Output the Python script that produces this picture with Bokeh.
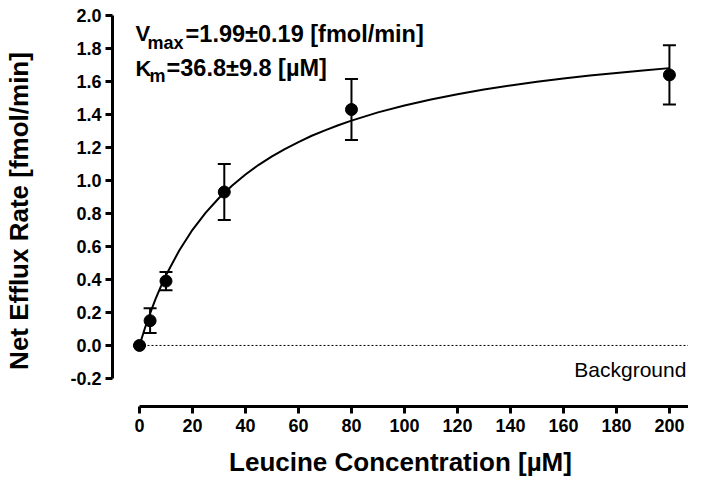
from bokeh.plotting import figure
from bokeh.models import (ColumnDataSource, Range1d, FixedTicker, PrintfTickFormatter,
                          Whisker, TeeHead, Label)
from bokeh.embed import file_html
from bokeh.resources import INLINE

# ---- data ----
conc = [0, 4, 10, 32, 80, 200]
rate = [0.00, 0.15, 0.39, 0.93, 1.43, 1.64]
rate_err = [0.00, 0.075, 0.055, 0.17, 0.185, 0.18]

fit_x = [0, 2, 4, 6, 8, 10, 15, 20, 25, 30, 35, 40, 45, 50, 55, 60, 65, 70, 75, 80, 90, 100,
         110, 120, 130, 140, 150, 160, 170, 180, 190, 200]
fit_y = [0.000, 0.103, 0.195, 0.279, 0.355, 0.425, 0.576, 0.701, 0.805, 0.894, 0.970, 1.036,
         1.095, 1.146, 1.192, 1.233, 1.271, 1.304, 1.335, 1.363, 1.413, 1.455, 1.491, 1.523,
         1.551, 1.576, 1.598, 1.618, 1.636, 1.652, 1.667, 1.681]

background_x = [0, 210]
background_y = [0, 0]

y_ticks = [-0.2, 0.0, 0.2, 0.4, 0.6, 0.8, 1.0, 1.2, 1.4, 1.6, 1.8, 2.0]
x_ticks = [0, 20, 40, 60, 80, 100, 120, 140, 160, 180, 200]

vmax_text = "=1.99\u00b10.19 [fmol/min]"
km_text = "=36.8\u00b19.8 [\u00b5M]"

FONT = "Liberation Sans"

p = figure(width=688, height=482, output_backend="svg", toolbar_location=None,
           x_range=Range1d(-10.19, 207.2), y_range=Range1d(-0.37, 2.0),
           min_border_left=112, min_border_right=0, min_border_top=15, min_border_bottom=76)
p.outline_line_color = None
p.xgrid.visible = False
p.ygrid.visible = False
p.background_fill_color = "white"
p.border_fill_color = "white"

for ax in (p.xaxis[0], p.yaxis[0]):
    ax.axis_line_width = 3
    ax.major_tick_line_width = 3
    ax.major_tick_out = 7
    ax.major_tick_in = 0
    ax.minor_tick_out = 0
    ax.minor_tick_in = 0
    ax.axis_line_color = "black"
    ax.major_tick_line_color = "black"
    ax.major_label_text_font = FONT
    ax.major_label_text_font_style = "bold"
    ax.major_label_text_font_size = "18px"
    ax.major_label_text_color = "black"
    ax.axis_label_text_font = FONT
    ax.axis_label_text_font_style = "bold"
    ax.axis_label_text_color = "black"

p.xaxis.axis_label_text_font_size = "26px"
p.yaxis.axis_label_text_font_size = "26px"
p.xaxis.bounds = (0, 210)
p.yaxis.bounds = (-0.2, 2.0)
p.xaxis.ticker = FixedTicker(ticks=x_ticks)
p.yaxis.ticker = FixedTicker(ticks=y_ticks)
p.yaxis.formatter = PrintfTickFormatter(format="%.1f")
p.xaxis.major_label_standoff = 5
p.yaxis.major_label_standoff = 4
p.xaxis.axis_label = "Leucine Concentration [\u00b5M]"
p.yaxis.axis_label = "Net Efflux Rate [fmol/min]"
p.xaxis.axis_label_standoff = 12
p.yaxis.axis_label_standoff = 33

# background dotted line
p.line(background_x, background_y, line_color="black", line_width=1, line_dash="2 2")

# fitted curve
p.line(fit_x, fit_y, line_color="black", line_width=2)

# error bars
src = ColumnDataSource(dict(x=conc, y=rate,
                            upper=[r + e for r, e in zip(rate, rate_err)],
                            lower=[r - e for r, e in zip(rate, rate_err)]))
w = Whisker(base="x", upper="upper", lower="lower", source=src, dimension="height",
            line_color="black", line_width=2,
            upper_head=TeeHead(size=13, line_width=2, line_color="black"),
            lower_head=TeeHead(size=13, line_width=2, line_color="black"))
p.add_layout(w)
p.scatter("x", "y", source=src, size=12, color="black")

# annotations
def lab(x, y, text, size, style="bold", align="left"):
    p.add_layout(Label(x=x, y=y, text=text, text_font=FONT, text_font_style=style,
                       text_font_size=size, text_color="black", text_baseline="alphabetic",
                       text_align=align))

lab(-1.5, 1.89, "V", "22px")
lab(3.0, 1.836, "max", "18px")
lab(17.4, 1.89, vmax_text, "23.5px")
lab(-1.5, 1.679, "K", "22px")
lab(3.8, 1.636, "m", "18px")
lab(10.2, 1.679, km_text, "23.5px")
lab(206.4, -0.145, "Background", "21px", style="normal", align="right")

open("out.html", "w").write(file_html(p, INLINE))
